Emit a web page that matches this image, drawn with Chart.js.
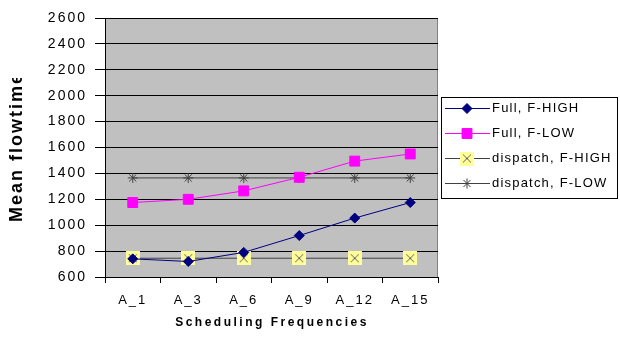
<!DOCTYPE html>
<html>
<head>
<meta charset="utf-8">
<script src="https://cdn.jsdelivr.net/npm/chart.js@4"></script>
<style>
  html, body { margin: 0; padding: 0; background: #fff; }
  #wrap { width: 620px; height: 338px; position: relative; }
</style>
</head>
<body>
<div id="wrap"><canvas id="flowChart"></canvas></div>
<script>
// data
const categories = ["A_1", "A_3", "A_6", "A_9", "A_12", "A_15"];
const fullHigh = [740, 720, 790, 920, 1055, 1175];
const fullLow = [1175, 1200, 1265, 1370, 1495, 1550];
const dispatchHigh = [745, 745, 745, 745, 745, 745];
const dispatchLow = [1365, 1365, 1365, 1365, 1365, 1365];
const seriesNames = ["Full, F-HIGH", "Full, F-LOW", "dispatch, F-HIGH", "dispatch, F-LOW"];
const yMin = 600, yMax = 2600, yStep = 200;

// yellow box with a cross, like the old excel marker
function boxCross(size) {
    let c = document.createElement("canvas");
    c.width = size; c.height = size;
    let g = c.getContext("2d");
    g.fillStyle = "#ffff99";
    g.fillRect(0, 0, size, size);
    g.strokeStyle = "#606060";
    g.lineWidth = 1;
    g.beginPath();
    g.moveTo(3, 3); g.lineTo(size - 3, size - 3);
    g.moveTo(size - 3, 3); g.lineTo(3, size - 3);
    g.stroke();
    return c;
}
const yellowMark = boxCross(14);

let datasets = [
    {
        label: seriesNames[0],
        data: fullHigh,
        borderColor: "#000080",
        backgroundColor: "#000080",
        borderWidth: 1,
        pointStyle: "rectRot",
        pointRadius: 5,
    },
    {
        label: seriesNames[1],
        data: fullLow,
        borderColor: "#ff00ff",
        backgroundColor: "#ff00ff",
        borderWidth: 1,
        pointStyle: "rect",
        pointRadius: 7,
    },
    {
        label: seriesNames[2],
        data: dispatchHigh,
        borderColor: "#404040",
        backgroundColor: "#ffff99",
        borderWidth: 1,
        pointStyle: yellowMark,
    },
    {
        label: seriesNames[3],
        data: dispatchLow,
        borderColor: "#404040",
        backgroundColor: "#404040",
        borderWidth: 1,
        pointStyle: "star",
        pointRadius: 5,
        pointBorderWidth: 1,
    },
];

// grey plot area + titles + legend box
const decor = {
    id: "decor",
    beforeDraw(chart) {
        let a = chart.chartArea, ctx = chart.ctx;
        ctx.save();
        ctx.fillStyle = "#c0c0c0";
        ctx.fillRect(a.left, a.top, a.right - a.left, a.bottom - a.top);
        ctx.strokeStyle = "#808080";
        ctx.lineWidth = 1;
        ctx.strokeRect(a.left + 0.5, a.top + 0.5, a.right - a.left - 1, a.bottom - a.top);
        ctx.restore();
        // wide letter spacing for the tick labels
        ctx.letterSpacing = "2px";
    },
    afterDraw(chart) {
        let ctx = chart.ctx;
        ctx.save();
        // y title, cut off at the top
        ctx.beginPath();
        ctx.rect(0, 78, 40, 200);
        ctx.clip();
        ctx.translate(17, 222);
        ctx.rotate(-Math.PI / 2);
        ctx.font = "bold 18px 'Liberation Sans', Arial, sans-serif";
        ctx.letterSpacing = "2px";
        ctx.fillStyle = "#000";
        ctx.textAlign = "left";
        ctx.textBaseline = "middle";
        ctx.fillText("Mean flowtime", 0, 0);
        ctx.restore();

        ctx.save();
        ctx.font = "bold 12px 'Liberation Sans', Arial, sans-serif";
        ctx.letterSpacing = "2.5px";
        ctx.fillStyle = "#000";
        ctx.textAlign = "center";
        ctx.textBaseline = "middle";
        ctx.fillText("Scheduling Frequencies", 272, 323);
        ctx.restore();

        // legend
        ctx.save();
        ctx.fillStyle = "#fff";
        ctx.fillRect(441, 97, 176, 101);
        ctx.strokeStyle = "#000";
        ctx.lineWidth = 1;
        ctx.strokeRect(441.5, 97.5, 176, 101);
        ctx.font = "13px 'Liberation Sans', Arial, sans-serif";
        ctx.letterSpacing = "1.2px";
        ctx.textBaseline = "middle";
        const rows = [108, 133, 158, 183];
        chart.data.datasets.forEach((ds, i) => {
            let y = rows[i] + 0.5;
            ctx.strokeStyle = ds.borderColor;
            ctx.lineWidth = 1;
            ctx.beginPath();
            ctx.moveTo(445, y);
            ctx.lineTo(490, y);
            ctx.stroke();
            ctx.fillStyle = ds.backgroundColor;
            Chart.helpers.drawPoint(ctx, {
                pointStyle: ds.pointStyle,
                radius: ds.pointRadius || 5,
                borderWidth: 1,
            }, 467, y);
            ctx.fillStyle = "#000";
            ctx.fillText(ds.label, 492, rows[i]);
        });
        ctx.restore();
    },
};

new Chart(document.getElementById("flowChart"), {
    type: "line",
    data: { labels: categories, datasets: datasets },
    plugins: [decor],
    options: {
        responsive: true,
        maintainAspectRatio: false,
        animation: false,
        layout: { padding: { top: 18, right: 182, left: 0, bottom: 0 } },
        plugins: { legend: { display: false }, tooltip: { enabled: false } },
        elements: { line: { tension: 0 }, point: { borderWidth: 1 } },
        scales: {
            x: {
                offset: true,
                grid: { offset: true, drawOnChartArea: false, color: "#000", tickLength: 6 },
                border: { color: "#000" },
                ticks: {
                    color: "#000",
                    padding: 10,
                    font: { family: "'Liberation Sans', Arial", size: 13 },
                },
                afterFit(scale) { scale.height = 61; },
            },
            y: {
                min: yMin,
                max: yMax,
                grid: { color: "#000", tickLength: 10 },
                border: { color: "#000" },
                ticks: {
                    stepSize: yStep,
                    color: "#000",
                    padding: 8,
                    font: { family: "'Liberation Sans', Arial", size: 14 },
                    callback: (v) => String(v),
                },
                afterFit(scale) { scale.width = 105; },
            },
        },
    },
});
</script>
</body>
</html>
